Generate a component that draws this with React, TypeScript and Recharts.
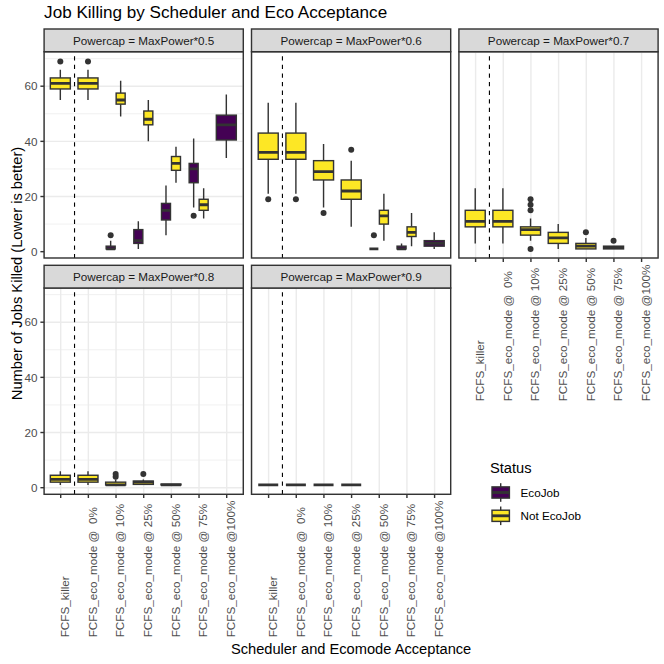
import React from 'react';
import {
  ComposedChart,
  Bar,
  XAxis,
  YAxis,
  CartesianGrid,
  ReferenceLine,
} from 'recharts';

type Box = [number, number, number, number, number] | null;
type Outlier = [number, number, number];

const CATEGORIES = [
  'FCFS_killer',
  'FCFS_eco_mode @  0%',
  'FCFS_eco_mode @ 10%',
  'FCFS_eco_mode @ 25%',
  'FCFS_eco_mode @ 50%',
  'FCFS_eco_mode @ 75%',
  'FCFS_eco_mode @100%',
];
const STATUSES = ['EcoJob', 'Not EcoJob'];
const STATUS_FILLS = ['#440154', '#FDE725'];
const POWERCAPS = ['0.5', '0.6', '0.7', '0.8', '0.9'];

// [lower whisker, Q1, median, Q3, upper whisker] per scheduler, null = no job with that status
const ECO_05: Box[] = [null, null, [1, 1, 1, 2, 4], [1, 3, 4, 8, 11], [6, 11.5, 15, 17.5, 24], [16, 25, 30, 32, 41], [34, 40.5, 46, 49.5, 57]];
const NOT_05: Box[] = [[55, 59, 61, 63, 66], [55, 59, 61, 63, 66], [49, 53.5, 55, 57.5, 62], [40, 46, 48, 51, 55], [25, 29.5, 32, 34.5, 38], [12, 15, 17, 19, 23], null];
const ECO_06: Box[] = [null, null, null, null, [1, 1, 1, 1, 1], [1, 1, 1, 2, 3], [1, 2, 3, 4, 7]];
const NOT_06: Box[] = [[21, 33.5, 36, 43, 54], [21, 33.5, 36, 43, 54], [16, 26, 29, 33, 39], [9, 19, 22, 26, 33], [4, 10, 13, 15, 21], [2, 5.5, 7, 9, 14], null];
const ECO_07: Box[] = [null, null, null, null, null, null, null];
const NOT_07: Box[] = [[3, 9, 11, 15, 23], [3, 9, 11, 15, 23], [4, 6, 8, 9, 12], [1, 3, 5, 7, 10], [1, 1, 2, 3, 5], [1, 1, 1.5, 2, 2], null];
const ECO_08: Box[] = [null, null, null, null, null, null, null];
const NOT_08: Box[] = [[1, 2, 3, 4.5, 6], [1, 2, 3, 4.5, 6], [1, 1, 1, 2, 3], [1, 1.2, 2, 2.4, 3], [1, 1, 1, 1.3, 1.3], null, null];
const ECO_09: Box[] = [null, null, null, null, null, null, null];
const NOT_09: Box[] = [[1, 1, 1, 1, 1], [1, 1, 1, 1, 1], [1, 1, 1, 1, 1], [1, 1, 1, 1, 1], null, null, null];

// outliers: [scheduler index, status index, jobs killed]
const OUT_05: Outlier[] = [[0, 1, 69], [1, 1, 69], [2, 0, 6], [5, 0, 13]];
const OUT_06: Outlier[] = [[0, 1, 19], [1, 1, 19], [2, 1, 14], [3, 1, 37], [4, 0, 6]];
const OUT_07: Outlier[] = [[2, 1, 15], [2, 1, 17], [2, 1, 19], [2, 1, 1], [4, 1, 7], [5, 1, 4]];
const OUT_08: Outlier[] = [[2, 1, 4], [2, 1, 5], [3, 1, 5]];
const OUT_09: Outlier[] = [];

const ECO_BOXES = [ECO_05, ECO_06, ECO_07, ECO_08, ECO_09];
const NOT_BOXES = [NOT_05, NOT_06, NOT_07, NOT_08, NOT_09];
const OUTLIERS = [OUT_05, OUT_06, OUT_07, OUT_08, OUT_09];

const Y_TICKS = [0, 20, 40, 60];
const Y_MINOR = [10, 30, 50, 70];

// ggplot style continuous expansion: 5% of the data range each side
const allValues = [...ECO_BOXES, ...NOT_BOXES]
  .flat()
  .filter(Boolean)
  .flat() as number[];
allValues.push(...OUTLIERS.flat().map((o) => o[2]));
const dataMin = Math.min(...allValues);
const dataMax = Math.max(...allValues);
const expand = (dataMax - dataMin) * 0.05;
const Y_DOMAIN = [dataMin - expand, dataMax + expand];

// layout (px)
const EDGE = '#333333';
const COL_LEFT = [44.1, 251.5, 458.9];
const ROW_TOP = [51.7, 288];
const PW = 199.2;
const PH = 206.3;
const STRIP_H = 22.7;
const YW = 44.1;
const XH = 146;
const PAD = PW / 72;

const PANELS = [
  { col: 0, row: 0, showY: true, showX: false },
  { col: 1, row: 0, showY: false, showX: false },
  { col: 2, row: 0, showY: false, showX: true },
  { col: 0, row: 1, showY: true, showX: true },
  { col: 1, row: 1, showY: false, showX: true },
];

const KEYS = ['eco', 'not'];

const buildRows = (p: number) =>
  CATEGORIES.map((cat, i) => {
    const row: any = { cat };
    [ECO_BOXES[p][i], NOT_BOXES[p][i]].forEach((box, s) => {
      const key = KEYS[s];
      const out = OUTLIERS[p].filter((o) => o[0] === i && o[1] === s).map((o) => o[2]);
      row[key + 'Box'] = box;
      row[key + 'Out'] = out;
      row[key] = box ? [Math.min(box[0], ...out), Math.max(box[4], ...out)] : null;
    });
    return row;
  });

const boxShape = (s: number) => (props: any) => {
  const { x, y, width, height } = props;
  const payload = props.payload ?? props;
  const key = KEYS[s];
  const box = payload[key + 'Box'];
  if (!box || !payload[key]) return <g />;
  const other = payload[KEYS[1 - s] + 'Box'];
  const [lo, hi] = payload[key];
  // linear position from the bar's own scaled extent
  const py = (v: number) => (hi === lo ? y : y + (height * (hi - v)) / (hi - lo));
  const cx = other ? x + width / 2 : s === 0 ? x + width : x;
  const bw = other ? width * 0.9 : width * 2;
  const [wl, q1, med, q3, wh] = box;
  return (
    <g>
      <line x1={cx} x2={cx} y1={py(wh)} y2={py(q3)} stroke={EDGE} strokeWidth={1.42} />
      <line x1={cx} x2={cx} y1={py(q1)} y2={py(wl)} stroke={EDGE} strokeWidth={1.42} />
      <rect
        x={cx - bw / 2}
        y={py(q3)}
        width={bw}
        height={Math.max(py(q1) - py(q3), 0)}
        fill={STATUS_FILLS[s]}
        stroke={EDGE}
        strokeWidth={1.42}
      />
      <line x1={cx - bw / 2} x2={cx + bw / 2} y1={py(med)} y2={py(med)} stroke={EDGE} strokeWidth={2.85} />
      {payload[key + 'Out'].map((v: number, k: number) => (
        <circle key={k} cx={cx} cy={py(v)} r={3} fill={EDGE} />
      ))}
    </g>
  );
};

const XTick = (props: any) => {
  const { x, y, payload } = props;
  return (
    <text
      transform={`translate(${x + 8.4},${y + 139.3}) rotate(-90)`}
      textAnchor="start"
      fontSize={11.7}
      fill="#4D4D4D"
      style={{ whiteSpace: 'pre' }}
    >
      {payload.value}
    </text>
  );
};

const Panel = ({ p }: { p: number }) => {
  const { col, row, showY, showX } = PANELS[p];
  const w = (showY ? YW : 0) + PW;
  const h = PH + (showX ? XH : 0);
  return (
    <div style={{ position: 'absolute', left: COL_LEFT[col] - (showY ? YW : 0), top: ROW_TOP[row], width: w, height: h }}>
      <ComposedChart
        width={w}
        height={h}
        data={buildRows(p)}
        margin={{ top: 0, right: 0, bottom: 0, left: 0 }}
        barGap={0}
        barCategoryGap="12.5%"
      >
        <CartesianGrid horizontalValues={Y_MINOR} vertical={false} stroke="#EBEBEB" strokeWidth={0.71} />
        <CartesianGrid stroke="#EBEBEB" strokeWidth={1.42} />
        <XAxis
          dataKey="cat"
          type="category"
          interval={0}
          padding={{ left: PAD, right: PAD }}
          height={showX ? XH : 0}
          tick={showX ? <XTick /> : false}
          tickLine={showX ? { stroke: EDGE, strokeWidth: 1.42 } : false}
          tickSize={3.7}
          tickMargin={0}
          axisLine={false}
        />
        <YAxis
          type="number"
          domain={Y_DOMAIN}
          ticks={Y_TICKS}
          allowDataOverflow
          width={showY ? YW : 0}
          tick={showY ? { fontSize: 11.7, fill: '#4D4D4D' } : false}
          tickLine={showY ? { stroke: EDGE, strokeWidth: 1.42 } : false}
          tickSize={3.7}
          tickMargin={2.9}
          axisLine={false}
        />
        <Bar dataKey="eco" isAnimationActive={false} shape={boxShape(0)} />
        <Bar dataKey="not" isAnimationActive={false} shape={boxShape(1)} />
        <ReferenceLine
          x={CATEGORIES[0]}
          position="end"
          stroke="#000"
          strokeWidth={1.1}
          strokeDasharray="4.3 4.3"
        />
      </ComposedChart>
    </div>
  );
};

const App = () => (
  <div
    style={{
      position: 'absolute',
      left: 0,
      top: 0,
      width: 664,
      height: 664,
      background: '#fff',
      overflow: 'hidden',
      fontFamily: '"Liberation Sans", Arial, sans-serif',
    }}
  >
    {POWERCAPS.map((_, p) => (
      <Panel key={p} p={p} />
    ))}
    <svg width={664} height={664} style={{ position: 'absolute', left: 0, top: 0, pointerEvents: 'none' }}>
      <text x={44.1} y={18} fontSize={17.1} fill="#000">
        Job Killing by Scheduler and Eco Acceptance
      </text>
      {PANELS.map((pn, p) => {
        const left = COL_LEFT[pn.col];
        const top = ROW_TOP[pn.row];
        return (
          <g key={p}>
            <rect x={left} y={top} width={PW} height={PH} fill="none" stroke={EDGE} strokeWidth={1.42} />
            <rect x={left} y={top - STRIP_H} width={PW} height={STRIP_H} fill="#D9D9D9" stroke={EDGE} strokeWidth={1.42} />
            <text x={left + PW / 2} y={top - STRIP_H / 2 + 4.2} textAnchor="middle" fontSize={11.7} fill="#1A1A1A">
              {`Powercap = MaxPower*${POWERCAPS[p]}`}
            </text>
          </g>
        );
      })}
      <text transform="translate(22,273.5) rotate(-90)" textAnchor="middle" fontSize={14.67} fill="#000">
        Number of Jobs Killed (Lower is better)
      </text>
      <text x={351.1} y={653.5} textAnchor="middle" fontSize={14.67} fill="#000">
        Scheduler and Ecomode Acceptance
      </text>
      <text x={490} y={472.7} fontSize={14.67} fill="#000">
        Status
      </text>
      {STATUSES.map((s, i) => {
        const cy = 492.5 + i * 23.3;
        return (
          <g key={s}>
            <line x1={500.7} x2={500.7} y1={cy - 9.3} y2={cy + 9.3} stroke={EDGE} strokeWidth={1.42} />
            <rect x={492} y={cy - 5.6} width={17.4} height={11.2} fill={STATUS_FILLS[i]} stroke={EDGE} strokeWidth={1.42} />
            <line x1={492} x2={509.4} y1={cy} y2={cy} stroke={EDGE} strokeWidth={2.85} />
            <text x={520.5} y={cy + 4.2} fontSize={11.7} fill="#000">
              {s}
            </text>
          </g>
        );
      })}
    </svg>
  </div>
);

export default App;
